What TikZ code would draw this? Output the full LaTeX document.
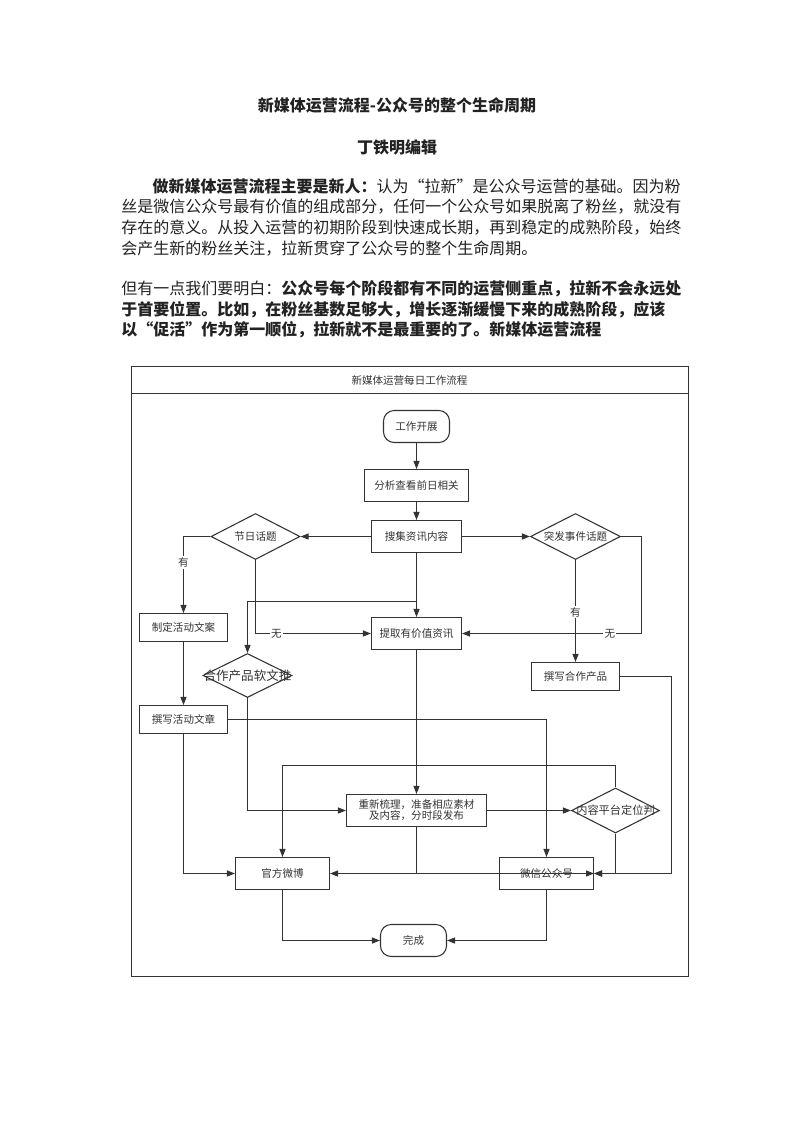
\documentclass[tikz,border=0pt]{standalone}
\usepackage{fontspec}
\setmainfont{Noto Sans CJK SC}
\usepackage{xcolor}
\usetikzlibrary{shapes.geometric,arrows.meta}
\definecolor{linegray}{HTML}{333333}
\definecolor{textgray}{HTML}{222222}
\XeTeXlinebreaklocale "zh"
\XeTeXlinebreakskip=0pt plus 1pt minus 0.5pt
\newcommand{\chartfont}{\fontsize{7.9pt}{8.3pt}\selectfont}
\newcommand{\bodyfont}{\fontsize{12pt}{14pt}\selectfont}
\newcommand{\bodyline}[2]{\makebox[#1][s]{#2}}

\begin{document}
\begin{tikzpicture}[x=0.75pt,y=-0.75pt,
  every node/.append style={inner sep=0pt},
  flowbox/.style 2 args={draw=linegray, line width=0.8pt, fill=white, text=linegray,
    minimum width=#1*0.75pt, minimum height=#2*0.75pt, font=\chartfont},
  terminal/.style 2 args={flowbox={#1}{#2}, rounded corners=8pt},
  decision/.style 2 args={diamond, draw=linegray, line width=0.8pt, text=linegray,
    minimum width=#1*0.75pt, minimum height=#2*0.75pt, font=\chartfont},
  arr/.style={draw=linegray, line width=0.8pt, -{Triangle[length=6pt,width=4.5pt]}},
  link/.style={draw=linegray, line width=0.8pt},
  tag/.style={fill=white, text=linegray, font=\chartfont, inner sep=1pt},
  bodytext/.style={anchor=west, text=textgray, font=\bodyfont}]
\fill[white] (0,0) rectangle (793,1122);
\useasboundingbox (0,0) rectangle (793,1122);

% page text
\node[text=textgray, font=\bodyfont\bfseries] (docTitle) at (397,105.5) {新媒体运营流程-公众号的整个生命周期};
\node[text=textgray, font=\bodyfont\bfseries] (docAuthor) at (397,147) {丁铁明编辑};
\node[bodytext] (lineA) at (152.4,186) {\bodyline{390.5pt}{\textbf{做新媒体运营流程主要是新人：}认为“拉新”是公众号运营的基础。因为粉}};
\node[bodytext] (lineB) at (121,206.7) {\bodyline{414pt}{丝是微信公众号最有价值的组成部分，任何一个公众号如果脱离了粉丝，就没有}};
\node[bodytext] (lineC) at (121,227.7) {\bodyline{414pt}{存在的意义。从投入运营的初期阶段到快速成长期，再到稳定的成熟阶段，始终}};
\node[bodytext] (lineD) at (121,248.3) {会产生新的粉丝关注，拉新贯穿了公众号的整个生命周期。};
\node[bodytext] (lineE) at (121,288.3) {\bodyline{414pt}{但有一点我们要明白：\textbf{公众号每个阶段都有不同的运营侧重点，拉新不会永远处}}};
\node[bodytext] (lineF) at (121,309.3) {\textbf{于首要位置。比如，在粉丝基数足够大，增长逐渐缓慢下来的成熟阶段，应该}};
\node[bodytext] (lineG) at (121,329.3) {\textbf{以“促活”作为第一顺位，拉新就不是最重要的了。新媒体运营流程}};

% frame
\draw[link] (131.5,366.5) rectangle (688.5,976.5);
\draw[link] (131.5,393.5) -- (688.5,393.5);
\node[text=linegray, font=\chartfont] (chartTitle) at (409.5,380.5) {新媒体运营每日工作流程};

% nodes
\node[terminal={66}{32}] (start) at (416.5,426.5) {工作开展};
\node[flowbox={104}{32}] (fenxi) at (416.5,485.5) {分析查看前日相关};
\node[flowbox={90}{32}] (souji) at (416.5,536.5) {搜集资讯内容};
\node[decision={89}{46}] (jieri) at (255.5,536.5) {\makebox[0pt]{节日话题}};
\node[decision={90}{46}] (tufa) at (575.5,536.5) {\makebox[0pt]{突发事件话题}};
\node[flowbox={88}{28}] (zhiding) at (183.5,627.5) {制定活动文案};
\node[flowbox={90}{32}] (tiqu) at (416.5,633.5) {提取有价值资讯};
\node[decision={89}{44}, font=\fontsize{9.4pt}{10pt}\selectfont] (hezuo) at (247.5,675.5) {\makebox[0pt]{合作产品软文推}};
\node[flowbox={88}{28}] (zxhezuo) at (575.5,676.5) {撰写合作产品};
\node[flowbox={88}{28}] (zxhuodong) at (183.5,719.5) {撰写活动文章};
\node[flowbox={140}{32}, align=center] (chongxin) at (416.5,810.5) {重新梳理，准备相应素材\\及内容，分时段发布};
\node[decision={88}{45}, font=\fontsize{8.4pt}{9pt}\selectfont] (neirong) at (615.5,810.5) {\makebox[0pt]{内容平台定位判}};
\node[flowbox={94}{32}] (weibo) at (282.5,873.5) {官方微博};
\node[flowbox={94}{32}] (weixin) at (546.5,873.5) {微信公众号};
\node[terminal={66}{32}] (wancheng) at (413.5,940.5) {完成};

% connectors
\draw[arr] (start) -- (fenxi);
\draw[arr] (fenxi) -- (souji);
\draw[arr] (souji) -- (jieri);
\draw[arr] (souji) -- (tufa);
\draw[arr] (jieri.west) -| node[tag, pos=0.67] (tagYesA) {有} (zhiding.north);
\draw[arr] (jieri.south) |- node[tag, pos=0.59] (tagNoA) {无} (tiqu.west);
\draw[arr] (tufa.east) -- ++(20,0) |- node[tag, pos=0.587] (tagNoB) {无} (tiqu.east);
\draw[arr] (tufa.south) -- node[tag, pos=0.51] (tagYesB) {有} (zxhezuo.north);
\draw[arr] (souji) -- (tiqu);
\draw[arr] (souji.south |- 0,601.5) -| (hezuo.north);
\draw[arr] (zhiding) -- (zxhuodong);
\draw[arr] (tiqu) -- (chongxin);
\draw[arr] (hezuo.south) |- (chongxin.west);
\draw[arr] (zxhuodong.east) -| (weixin.north);
\draw[arr] (zxhuodong.south) |- (weibo.west);
\draw[arr] (chongxin) -- (neirong);
\draw[arr] (neirong.north) -- ++(0,-22) -| (weibo.north);
\draw[arr] (neirong.south) |- (weixin.east);
\draw[arr] (zxhezuo.east) -- ++(51.5,0) |- (weixin.east);
\draw[arr] (chongxin.south) |- (weibo.east);
\draw[arr] (chongxin.south) |- (weixin.east);
\draw[arr] (weibo.south) |- (wancheng.west);
\draw[arr] (weixin.south) |- (wancheng.east);
\end{tikzpicture}
\end{document}
